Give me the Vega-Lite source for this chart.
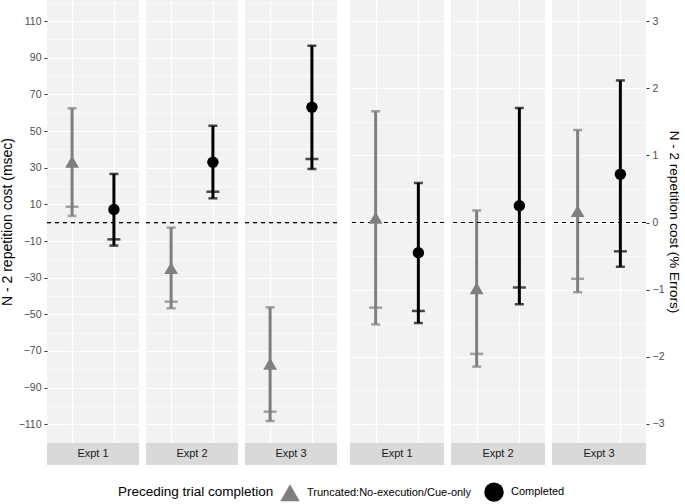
{
"$schema": "https://vega.github.io/schema/vega-lite/v6.json",
"padding": {"top": 0, "bottom": 0, "left": 0, "right": 0},
"background": "white",
"data": {"values": [
{"measure": "RT", "expt": "Expt 1", "cond": "Truncated:No-execution/Cue-only", "y": 33.2, "lo": 3.7, "hi": 62.4, "tick": 8.7},
{"measure": "RT", "expt": "Expt 1", "cond": "Completed", "y": 7.2, "lo": -12.5, "hi": 26.6, "tick": -9.1},
{"measure": "RT", "expt": "Expt 2", "cond": "Truncated:No-execution/Cue-only", "y": -24.8, "lo": -46.7, "hi": -2.7, "tick": -43.1},
{"measure": "RT", "expt": "Expt 2", "cond": "Completed", "y": 33.0, "lo": 13.3, "hi": 52.9, "tick": 16.9},
{"measure": "RT", "expt": "Expt 3", "cond": "Truncated:No-execution/Cue-only", "y": -77.0, "lo": -108.2, "hi": -46.2, "tick": -103.1},
{"measure": "RT", "expt": "Expt 3", "cond": "Completed", "y": 63.0, "lo": 29.3, "hi": 96.6, "tick": 34.8},
{"measure": "ERR", "expt": "Expt 1", "cond": "Truncated:No-execution/Cue-only", "y": 0.07, "lo": -1.52, "hi": 1.66, "tick": -1.27},
{"measure": "ERR", "expt": "Expt 1", "cond": "Completed", "y": -0.45, "lo": -1.5, "hi": 0.59, "tick": -1.32},
{"measure": "ERR", "expt": "Expt 2", "cond": "Truncated:No-execution/Cue-only", "y": -0.98, "lo": -2.15, "hi": 0.18, "tick": -1.96},
{"measure": "ERR", "expt": "Expt 2", "cond": "Completed", "y": 0.25, "lo": -1.22, "hi": 1.71, "tick": -0.97},
{"measure": "ERR", "expt": "Expt 3", "cond": "Truncated:No-execution/Cue-only", "y": 0.17, "lo": -1.04, "hi": 1.38, "tick": -0.84},
{"measure": "ERR", "expt": "Expt 3", "cond": "Completed", "y": 0.72, "lo": -0.66, "hi": 2.12, "tick": -0.43}
]},
"spacing": 11,
"hconcat": [
{"spacing": 5, "hconcat": [
 {"spacing": 0, "vconcat": [
  {"width": 92, "height": 443, "view": {"fill": "#f2f2f2", "stroke": null},
   "transform": [{"filter": "datum.measure == 'RT' && datum.expt == 'Expt 1'"}],
   "resolve": {"axis": {"y": "independent"}},
   "layer": [
    {"mark": {"type": "rule", "strokeWidth": 3}, "encoding": {
      "x": {"field": "cond", "type": "nominal", "scale": {"type": "point", "padding": 0.6, "domain": ["Truncated:No-execution/Cue-only", "Completed"]}, "axis": {"title": null, "labels": false, "ticks": false, "domain": false, "grid": true, "gridColor": "white", "gridWidth": 1.2}},
      "y": {"field": "lo", "type": "quantitative", "scale": {"domain": [-120.2, 121.5], "nice": false, "zero": false}, "axis": {"orient": "left", "values": [-110, -90, -70, -50, -30, -10, 10, 30, 50, 70, 90, 110], "title": "N - 2 repetition cost (msec)", "titlePadding": 4, "domain": false, "grid": true, "gridColor": "white", "gridWidth": 1.2}},
      "y2": {"field": "hi"},
      "color": {"condition": {"test": "datum.cond == 'Completed'", "value": "#000000"}, "value": "#7f7f7f"}}},
    {"mark": {"type": "rule", "color": "black", "strokeDash": [4, 4], "strokeWidth": 1}, "encoding": {
      "y": {"datum": 0, "type": "quantitative", "axis": {"orient": "right", "values": [-120, -100, -80, -60, -40, -20, 0, 20, 40, 60, 80, 100, 120], "title": null, "labels": false, "ticks": false, "domain": false, "grid": true, "gridColor": "white", "gridWidth": 0.6}}}},
    {"mark": {"type": "tick", "orient": "horizontal", "size": 9, "thickness": 2.5}, "encoding": {
      "x": {"field": "cond", "type": "nominal"}, "y": {"field": "hi", "type": "quantitative", "axis": null}, "color": {"condition": {"test": "datum.cond == 'Completed'", "value": "#000000"}, "value": "#7f7f7f"}}},
    {"mark": {"type": "tick", "orient": "horizontal", "size": 9, "thickness": 2.5}, "encoding": {
      "x": {"field": "cond", "type": "nominal"}, "y": {"field": "lo", "type": "quantitative", "axis": null}, "color": {"condition": {"test": "datum.cond == 'Completed'", "value": "#000000"}, "value": "#7f7f7f"}}},
    {"mark": {"type": "tick", "orient": "horizontal", "size": 13, "thickness": 2.5}, "encoding": {
      "x": {"field": "cond", "type": "nominal"}, "y": {"field": "tick", "type": "quantitative", "axis": null}, "color": {"condition": {"test": "datum.cond == 'Completed'", "value": "#000000"}, "value": "#7f7f7f"}}},
    {"mark": {"type": "point", "filled": true, "opacity": 1}, "encoding": {
      "x": {"field": "cond", "type": "nominal"}, "y": {"field": "y", "type": "quantitative", "axis": null},
      "color": {"field": "cond", "type": "nominal", "scale": {"domain": ["Truncated:No-execution/Cue-only", "Completed"], "range": ["#7f7f7f", "#000000"]}, "title": "Preceding trial completion"},
      "shape": {"field": "cond", "type": "nominal", "scale": {"domain": ["Truncated:No-execution/Cue-only", "Completed"], "range": ["triangle-up", "circle"]}, "title": "Preceding trial completion"},
      "size": {"condition": {"test": "datum.cond == 'Completed'", "value": 130}, "value": 190}}}
   ]},
  {"width": 92, "height": 22, "view": {"fill": "#d9d9d9", "stroke": null},
   "transform": [{"filter": "datum.measure == 'RT' && datum.expt == 'Expt 1' && datum.cond == 'Completed'"}],
   "mark": {"type": "text", "fontSize": 11, "color": "#1a1a1a"}, "encoding": {"text": {"field": "expt"}}}
 ]},
 {"spacing": 0, "vconcat": [
  {"width": 92, "height": 443, "view": {"fill": "#f2f2f2", "stroke": null},
   "transform": [{"filter": "datum.measure == 'RT' && datum.expt == 'Expt 2'"}],
   "resolve": {"axis": {"y": "independent"}},
   "layer": [
    {"mark": {"type": "rule", "strokeWidth": 3}, "encoding": {
      "x": {"field": "cond", "type": "nominal", "scale": {"type": "point", "padding": 0.6, "domain": ["Truncated:No-execution/Cue-only", "Completed"]}, "axis": {"title": null, "labels": false, "ticks": false, "domain": false, "grid": true, "gridColor": "white", "gridWidth": 1.2}},
      "y": {"field": "lo", "type": "quantitative", "scale": {"domain": [-120.2, 121.5], "nice": false, "zero": false}, "axis": {"orient": "left", "values": [-110, -90, -70, -50, -30, -10, 10, 30, 50, 70, 90, 110], "title": null, "labels": false, "ticks": false, "domain": false, "grid": true, "gridColor": "white", "gridWidth": 1.2}},
      "y2": {"field": "hi"},
      "color": {"condition": {"test": "datum.cond == 'Completed'", "value": "#000000"}, "value": "#7f7f7f"}}},
    {"mark": {"type": "rule", "color": "black", "strokeDash": [4, 4], "strokeWidth": 1}, "encoding": {
      "y": {"datum": 0, "type": "quantitative", "axis": {"orient": "right", "values": [-120, -100, -80, -60, -40, -20, 0, 20, 40, 60, 80, 100, 120], "title": null, "labels": false, "ticks": false, "domain": false, "grid": true, "gridColor": "white", "gridWidth": 0.6}}}},
    {"mark": {"type": "tick", "orient": "horizontal", "size": 9, "thickness": 2.5}, "encoding": {
      "x": {"field": "cond", "type": "nominal"}, "y": {"field": "hi", "type": "quantitative", "axis": null}, "color": {"condition": {"test": "datum.cond == 'Completed'", "value": "#000000"}, "value": "#7f7f7f"}}},
    {"mark": {"type": "tick", "orient": "horizontal", "size": 9, "thickness": 2.5}, "encoding": {
      "x": {"field": "cond", "type": "nominal"}, "y": {"field": "lo", "type": "quantitative", "axis": null}, "color": {"condition": {"test": "datum.cond == 'Completed'", "value": "#000000"}, "value": "#7f7f7f"}}},
    {"mark": {"type": "tick", "orient": "horizontal", "size": 13, "thickness": 2.5}, "encoding": {
      "x": {"field": "cond", "type": "nominal"}, "y": {"field": "tick", "type": "quantitative", "axis": null}, "color": {"condition": {"test": "datum.cond == 'Completed'", "value": "#000000"}, "value": "#7f7f7f"}}},
    {"mark": {"type": "point", "filled": true, "opacity": 1}, "encoding": {
      "x": {"field": "cond", "type": "nominal"}, "y": {"field": "y", "type": "quantitative", "axis": null},
      "color": {"field": "cond", "type": "nominal", "scale": {"domain": ["Truncated:No-execution/Cue-only", "Completed"], "range": ["#7f7f7f", "#000000"]}, "title": "Preceding trial completion"},
      "shape": {"field": "cond", "type": "nominal", "scale": {"domain": ["Truncated:No-execution/Cue-only", "Completed"], "range": ["triangle-up", "circle"]}, "title": "Preceding trial completion"},
      "size": {"condition": {"test": "datum.cond == 'Completed'", "value": 130}, "value": 190}}}
   ]},
  {"width": 92, "height": 22, "view": {"fill": "#d9d9d9", "stroke": null},
   "transform": [{"filter": "datum.measure == 'RT' && datum.expt == 'Expt 2' && datum.cond == 'Completed'"}],
   "mark": {"type": "text", "fontSize": 11, "color": "#1a1a1a"}, "encoding": {"text": {"field": "expt"}}}
 ]},
 {"spacing": 0, "vconcat": [
  {"width": 92, "height": 443, "view": {"fill": "#f2f2f2", "stroke": null},
   "transform": [{"filter": "datum.measure == 'RT' && datum.expt == 'Expt 3'"}],
   "resolve": {"axis": {"y": "independent"}},
   "layer": [
    {"mark": {"type": "rule", "strokeWidth": 3}, "encoding": {
      "x": {"field": "cond", "type": "nominal", "scale": {"type": "point", "padding": 0.6, "domain": ["Truncated:No-execution/Cue-only", "Completed"]}, "axis": {"title": null, "labels": false, "ticks": false, "domain": false, "grid": true, "gridColor": "white", "gridWidth": 1.2}},
      "y": {"field": "lo", "type": "quantitative", "scale": {"domain": [-120.2, 121.5], "nice": false, "zero": false}, "axis": {"orient": "left", "values": [-110, -90, -70, -50, -30, -10, 10, 30, 50, 70, 90, 110], "title": null, "labels": false, "ticks": false, "domain": false, "grid": true, "gridColor": "white", "gridWidth": 1.2}},
      "y2": {"field": "hi"},
      "color": {"condition": {"test": "datum.cond == 'Completed'", "value": "#000000"}, "value": "#7f7f7f"}}},
    {"mark": {"type": "rule", "color": "black", "strokeDash": [4, 4], "strokeWidth": 1}, "encoding": {
      "y": {"datum": 0, "type": "quantitative", "axis": {"orient": "right", "values": [-120, -100, -80, -60, -40, -20, 0, 20, 40, 60, 80, 100, 120], "title": null, "labels": false, "ticks": false, "domain": false, "grid": true, "gridColor": "white", "gridWidth": 0.6}}}},
    {"mark": {"type": "tick", "orient": "horizontal", "size": 9, "thickness": 2.5}, "encoding": {
      "x": {"field": "cond", "type": "nominal"}, "y": {"field": "hi", "type": "quantitative", "axis": null}, "color": {"condition": {"test": "datum.cond == 'Completed'", "value": "#000000"}, "value": "#7f7f7f"}}},
    {"mark": {"type": "tick", "orient": "horizontal", "size": 9, "thickness": 2.5}, "encoding": {
      "x": {"field": "cond", "type": "nominal"}, "y": {"field": "lo", "type": "quantitative", "axis": null}, "color": {"condition": {"test": "datum.cond == 'Completed'", "value": "#000000"}, "value": "#7f7f7f"}}},
    {"mark": {"type": "tick", "orient": "horizontal", "size": 13, "thickness": 2.5}, "encoding": {
      "x": {"field": "cond", "type": "nominal"}, "y": {"field": "tick", "type": "quantitative", "axis": null}, "color": {"condition": {"test": "datum.cond == 'Completed'", "value": "#000000"}, "value": "#7f7f7f"}}},
    {"mark": {"type": "point", "filled": true, "opacity": 1}, "encoding": {
      "x": {"field": "cond", "type": "nominal"}, "y": {"field": "y", "type": "quantitative", "axis": null},
      "color": {"field": "cond", "type": "nominal", "scale": {"domain": ["Truncated:No-execution/Cue-only", "Completed"], "range": ["#7f7f7f", "#000000"]}, "title": "Preceding trial completion"},
      "shape": {"field": "cond", "type": "nominal", "scale": {"domain": ["Truncated:No-execution/Cue-only", "Completed"], "range": ["triangle-up", "circle"]}, "title": "Preceding trial completion"},
      "size": {"condition": {"test": "datum.cond == 'Completed'", "value": 130}, "value": 190}}}
   ]},
  {"width": 92, "height": 22, "view": {"fill": "#d9d9d9", "stroke": null},
   "transform": [{"filter": "datum.measure == 'RT' && datum.expt == 'Expt 3' && datum.cond == 'Completed'"}],
   "mark": {"type": "text", "fontSize": 11, "color": "#1a1a1a"}, "encoding": {"text": {"field": "expt"}}}
 ]}
]},
{"spacing": 5, "hconcat": [
 {"spacing": 0, "vconcat": [
  {"width": 94, "height": 443, "view": {"fill": "#f2f2f2", "stroke": null},
   "transform": [{"filter": "datum.measure == 'ERR' && datum.expt == 'Expt 1'"}],
   "resolve": {"axis": {"y": "independent"}},
   "layer": [
    {"mark": {"type": "rule", "strokeWidth": 3}, "encoding": {
      "x": {"field": "cond", "type": "nominal", "scale": {"type": "point", "padding": 0.6, "domain": ["Truncated:No-execution/Cue-only", "Completed"]}, "axis": {"title": null, "labels": false, "ticks": false, "domain": false, "grid": true, "gridColor": "white", "gridWidth": 1.2}},
      "y": {"field": "lo", "type": "quantitative", "scale": {"domain": [-3.29, 3.32], "nice": false, "zero": false}, "axis": {"orient": "right", "values": [-3, -2, -1, 0, 1, 2, 3], "title": null, "labels": false, "ticks": false, "domain": false, "grid": true, "gridColor": "white", "gridWidth": 1.2}},
      "y2": {"field": "hi"},
      "color": {"condition": {"test": "datum.cond == 'Completed'", "value": "#000000"}, "value": "#7f7f7f"}}},
    {"mark": {"type": "rule", "color": "black", "strokeDash": [4, 4], "strokeWidth": 1}, "encoding": {
      "y": {"datum": 0, "type": "quantitative", "axis": {"orient": "left", "values": [-2.5, -1.5, -0.5, 0.5, 1.5, 2.5], "title": null, "labels": false, "ticks": false, "domain": false, "grid": true, "gridColor": "white", "gridWidth": 0.6}}}},
    {"mark": {"type": "tick", "orient": "horizontal", "size": 9, "thickness": 2.5}, "encoding": {
      "x": {"field": "cond", "type": "nominal"}, "y": {"field": "hi", "type": "quantitative", "axis": null}, "color": {"condition": {"test": "datum.cond == 'Completed'", "value": "#000000"}, "value": "#7f7f7f"}}},
    {"mark": {"type": "tick", "orient": "horizontal", "size": 9, "thickness": 2.5}, "encoding": {
      "x": {"field": "cond", "type": "nominal"}, "y": {"field": "lo", "type": "quantitative", "axis": null}, "color": {"condition": {"test": "datum.cond == 'Completed'", "value": "#000000"}, "value": "#7f7f7f"}}},
    {"mark": {"type": "tick", "orient": "horizontal", "size": 13, "thickness": 2.5}, "encoding": {
      "x": {"field": "cond", "type": "nominal"}, "y": {"field": "tick", "type": "quantitative", "axis": null}, "color": {"condition": {"test": "datum.cond == 'Completed'", "value": "#000000"}, "value": "#7f7f7f"}}},
    {"mark": {"type": "point", "filled": true, "opacity": 1}, "encoding": {
      "x": {"field": "cond", "type": "nominal"}, "y": {"field": "y", "type": "quantitative", "axis": null},
      "color": {"field": "cond", "type": "nominal", "scale": {"domain": ["Truncated:No-execution/Cue-only", "Completed"], "range": ["#7f7f7f", "#000000"]}, "title": "Preceding trial completion"},
      "shape": {"field": "cond", "type": "nominal", "scale": {"domain": ["Truncated:No-execution/Cue-only", "Completed"], "range": ["triangle-up", "circle"]}, "title": "Preceding trial completion"},
      "size": {"condition": {"test": "datum.cond == 'Completed'", "value": 130}, "value": 190}}}
   ]},
  {"width": 94, "height": 22, "view": {"fill": "#d9d9d9", "stroke": null},
   "transform": [{"filter": "datum.measure == 'ERR' && datum.expt == 'Expt 1' && datum.cond == 'Completed'"}],
   "mark": {"type": "text", "fontSize": 11, "color": "#1a1a1a"}, "encoding": {"text": {"field": "expt"}}}
 ]},
 {"spacing": 0, "vconcat": [
  {"width": 94, "height": 443, "view": {"fill": "#f2f2f2", "stroke": null},
   "transform": [{"filter": "datum.measure == 'ERR' && datum.expt == 'Expt 2'"}],
   "resolve": {"axis": {"y": "independent"}},
   "layer": [
    {"mark": {"type": "rule", "strokeWidth": 3}, "encoding": {
      "x": {"field": "cond", "type": "nominal", "scale": {"type": "point", "padding": 0.6, "domain": ["Truncated:No-execution/Cue-only", "Completed"]}, "axis": {"title": null, "labels": false, "ticks": false, "domain": false, "grid": true, "gridColor": "white", "gridWidth": 1.2}},
      "y": {"field": "lo", "type": "quantitative", "scale": {"domain": [-3.29, 3.32], "nice": false, "zero": false}, "axis": {"orient": "right", "values": [-3, -2, -1, 0, 1, 2, 3], "title": null, "labels": false, "ticks": false, "domain": false, "grid": true, "gridColor": "white", "gridWidth": 1.2}},
      "y2": {"field": "hi"},
      "color": {"condition": {"test": "datum.cond == 'Completed'", "value": "#000000"}, "value": "#7f7f7f"}}},
    {"mark": {"type": "rule", "color": "black", "strokeDash": [4, 4], "strokeWidth": 1}, "encoding": {
      "y": {"datum": 0, "type": "quantitative", "axis": {"orient": "left", "values": [-2.5, -1.5, -0.5, 0.5, 1.5, 2.5], "title": null, "labels": false, "ticks": false, "domain": false, "grid": true, "gridColor": "white", "gridWidth": 0.6}}}},
    {"mark": {"type": "tick", "orient": "horizontal", "size": 9, "thickness": 2.5}, "encoding": {
      "x": {"field": "cond", "type": "nominal"}, "y": {"field": "hi", "type": "quantitative", "axis": null}, "color": {"condition": {"test": "datum.cond == 'Completed'", "value": "#000000"}, "value": "#7f7f7f"}}},
    {"mark": {"type": "tick", "orient": "horizontal", "size": 9, "thickness": 2.5}, "encoding": {
      "x": {"field": "cond", "type": "nominal"}, "y": {"field": "lo", "type": "quantitative", "axis": null}, "color": {"condition": {"test": "datum.cond == 'Completed'", "value": "#000000"}, "value": "#7f7f7f"}}},
    {"mark": {"type": "tick", "orient": "horizontal", "size": 13, "thickness": 2.5}, "encoding": {
      "x": {"field": "cond", "type": "nominal"}, "y": {"field": "tick", "type": "quantitative", "axis": null}, "color": {"condition": {"test": "datum.cond == 'Completed'", "value": "#000000"}, "value": "#7f7f7f"}}},
    {"mark": {"type": "point", "filled": true, "opacity": 1}, "encoding": {
      "x": {"field": "cond", "type": "nominal"}, "y": {"field": "y", "type": "quantitative", "axis": null},
      "color": {"field": "cond", "type": "nominal", "scale": {"domain": ["Truncated:No-execution/Cue-only", "Completed"], "range": ["#7f7f7f", "#000000"]}, "title": "Preceding trial completion"},
      "shape": {"field": "cond", "type": "nominal", "scale": {"domain": ["Truncated:No-execution/Cue-only", "Completed"], "range": ["triangle-up", "circle"]}, "title": "Preceding trial completion"},
      "size": {"condition": {"test": "datum.cond == 'Completed'", "value": 130}, "value": 190}}}
   ]},
  {"width": 94, "height": 22, "view": {"fill": "#d9d9d9", "stroke": null},
   "transform": [{"filter": "datum.measure == 'ERR' && datum.expt == 'Expt 2' && datum.cond == 'Completed'"}],
   "mark": {"type": "text", "fontSize": 11, "color": "#1a1a1a"}, "encoding": {"text": {"field": "expt"}}}
 ]},
 {"spacing": 0, "vconcat": [
  {"width": 94, "height": 443, "view": {"fill": "#f2f2f2", "stroke": null},
   "transform": [{"filter": "datum.measure == 'ERR' && datum.expt == 'Expt 3'"}],
   "resolve": {"axis": {"y": "independent"}},
   "layer": [
    {"mark": {"type": "rule", "strokeWidth": 3}, "encoding": {
      "x": {"field": "cond", "type": "nominal", "scale": {"type": "point", "padding": 0.6, "domain": ["Truncated:No-execution/Cue-only", "Completed"]}, "axis": {"title": null, "labels": false, "ticks": false, "domain": false, "grid": true, "gridColor": "white", "gridWidth": 1.2}},
      "y": {"field": "lo", "type": "quantitative", "scale": {"domain": [-3.29, 3.32], "nice": false, "zero": false}, "axis": {"orient": "right", "values": [-3, -2, -1, 0, 1, 2, 3], "title": "N - 2 repetition cost (% Errors)", "titlePadding": 3, "titleFontSize": 13.5, "domain": false, "grid": true, "gridColor": "white", "gridWidth": 1.2}},
      "y2": {"field": "hi"},
      "color": {"condition": {"test": "datum.cond == 'Completed'", "value": "#000000"}, "value": "#7f7f7f"}}},
    {"mark": {"type": "rule", "color": "black", "strokeDash": [4, 4], "strokeWidth": 1}, "encoding": {
      "y": {"datum": 0, "type": "quantitative", "axis": {"orient": "left", "values": [-2.5, -1.5, -0.5, 0.5, 1.5, 2.5], "title": null, "labels": false, "ticks": false, "domain": false, "grid": true, "gridColor": "white", "gridWidth": 0.6}}}},
    {"mark": {"type": "tick", "orient": "horizontal", "size": 9, "thickness": 2.5}, "encoding": {
      "x": {"field": "cond", "type": "nominal"}, "y": {"field": "hi", "type": "quantitative", "axis": null}, "color": {"condition": {"test": "datum.cond == 'Completed'", "value": "#000000"}, "value": "#7f7f7f"}}},
    {"mark": {"type": "tick", "orient": "horizontal", "size": 9, "thickness": 2.5}, "encoding": {
      "x": {"field": "cond", "type": "nominal"}, "y": {"field": "lo", "type": "quantitative", "axis": null}, "color": {"condition": {"test": "datum.cond == 'Completed'", "value": "#000000"}, "value": "#7f7f7f"}}},
    {"mark": {"type": "tick", "orient": "horizontal", "size": 13, "thickness": 2.5}, "encoding": {
      "x": {"field": "cond", "type": "nominal"}, "y": {"field": "tick", "type": "quantitative", "axis": null}, "color": {"condition": {"test": "datum.cond == 'Completed'", "value": "#000000"}, "value": "#7f7f7f"}}},
    {"mark": {"type": "point", "filled": true, "opacity": 1}, "encoding": {
      "x": {"field": "cond", "type": "nominal"}, "y": {"field": "y", "type": "quantitative", "axis": null},
      "color": {"field": "cond", "type": "nominal", "scale": {"domain": ["Truncated:No-execution/Cue-only", "Completed"], "range": ["#7f7f7f", "#000000"]}, "title": "Preceding trial completion"},
      "shape": {"field": "cond", "type": "nominal", "scale": {"domain": ["Truncated:No-execution/Cue-only", "Completed"], "range": ["triangle-up", "circle"]}, "title": "Preceding trial completion"},
      "size": {"condition": {"test": "datum.cond == 'Completed'", "value": 130}, "value": 190}}}
   ]},
  {"width": 94, "height": 22, "view": {"fill": "#d9d9d9", "stroke": null},
   "transform": [{"filter": "datum.measure == 'ERR' && datum.expt == 'Expt 3' && datum.cond == 'Completed'"}],
   "mark": {"type": "text", "fontSize": 11, "color": "#1a1a1a"}, "encoding": {"text": {"field": "expt"}}}
 ]}
]}
],
"config": {
 "font": "Liberation Sans",
 "view": {"stroke": null},
 "axis": {"labelFontSize": 10.5, "labelColor": "#4d4d4d", "tickColor": "#333333", "tickSize": 3, "labelPadding": 3, "titleFontSize": 14, "titleFontWeight": "normal", "titleColor": "#000000"},
 "legend": {"orient": "none", "legendX": 71, "legendY": 482, "direction": "horizontal", "titleOrient": "left", "titlePadding": 6, "titleFontSize": 13.5, "titleFontWeight": "normal", "titleColor": "#000000", "labelFontSize": 11, "labelColor": "#000000", "labelLimit": 0, "symbolSize": 380, "symbolStrokeWidth": 0, "columnPadding": 12, "labelOffset": 7}
}
}
